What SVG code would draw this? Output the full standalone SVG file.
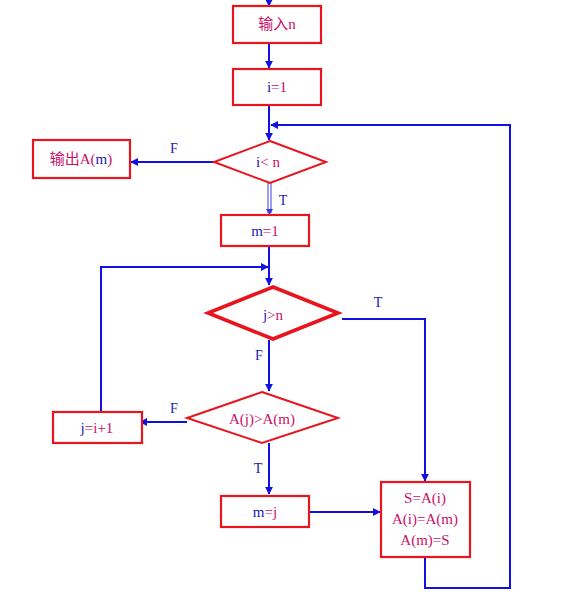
<svg xmlns="http://www.w3.org/2000/svg" width="580" height="596" viewBox="0 0 580 596">
<style>
.box{fill:#fff;stroke:#e8141e;stroke-width:2.2}
.dia{fill:#fff;stroke:#e8141e;stroke-width:2}
.thick{stroke-width:3.6}
.ln{fill:none;stroke:#1010e0;stroke-width:2}
.t{font-family:"Liberation Serif","Noto Sans CJK SC",serif;font-size:15px;text-anchor:middle}
.m{fill:#c8106a}
.b{fill:#1a1ab0}
.lbl{font-family:"Liberation Serif",serif;font-size:14px;fill:#1a1ab0;text-anchor:middle}
</style>
<defs>
<marker id="ah" viewBox="0 0 10 10" refX="9" refY="5" markerWidth="4" markerHeight="4" orient="auto" markerUnits="strokeWidth">
<path d="M0,0 L10,5 L0,10 z" fill="#1010e0"/>
</marker>
</defs>
<rect width="580" height="596" fill="#fff"/>
<g id="connectors">
<line class="ln" x1="269" y1="0" x2="269" y2="6" marker-end="url(#ah)"/>
<line class="ln" x1="269" y1="44" x2="269" y2="68" marker-end="url(#ah)"/>
<line class="ln" x1="269" y1="106" x2="269" y2="140" marker-end="url(#ah)"/>
<line class="ln" x1="214" y1="162" x2="131" y2="162" marker-end="url(#ah)"/>
<line x1="268" y1="183" x2="268" y2="213" stroke="#3a3ae0" stroke-width="1"/>
<line x1="271" y1="183" x2="271" y2="213" stroke="#3a3ae0" stroke-width="1"/>
<path d="M266,209 L269.5,215 L273,209" fill="#3a3ae0"/>
<line class="ln" x1="269" y1="246" x2="269" y2="285" marker-end="url(#ah)"/>
<polyline class="ln" points="101,412 101,267 268,267" marker-end="url(#ah)"/>
<polyline class="ln" points="342,319 425,319 425,481" marker-end="url(#ah)"/>
<line class="ln" x1="269" y1="340" x2="269" y2="391" marker-end="url(#ah)"/>
<line class="ln" x1="187" y1="422" x2="140" y2="422" marker-end="url(#ah)"/>
<line class="ln" x1="269" y1="443" x2="269" y2="494" marker-end="url(#ah)"/>
<line class="ln" x1="309" y1="512" x2="380" y2="512" marker-end="url(#ah)"/>
<polyline class="ln" points="425,557 425,588 510,588 510,125 271,125" marker-end="url(#ah)"/>
<text class="lbl" x="174" y="153">F</text>
<text class="lbl" x="283" y="205">T</text>
<text class="lbl" x="378" y="307">T</text>
<text class="lbl" x="259" y="360">F</text>
<text class="lbl" x="174" y="413">F</text>
<text class="lbl" x="258" y="473">T</text>
</g>
<g id="input">
<rect class="box" x="233" y="6" width="88" height="37"/>
<text class="t m" x="277" y="29">输入n</text>
</g>
<g id="i1">
<rect class="box" x="233" y="69" width="88" height="36"/>
<text class="t" x="277" y="92"><tspan class="b">i</tspan><tspan class="m">=1</tspan></text>
</g>
<g id="cond-i">
<polygon class="dia" points="270,141 326,162 270,183 214,162"/>
<text class="t" x="268" y="167"><tspan class="b">i</tspan><tspan class="m">&lt; n</tspan></text>
</g>
<g id="output">
<rect class="box" x="33" y="140" width="97" height="38"/>
<text class="t" x="81" y="164"><tspan class="m">输出A(</tspan><tspan class="b">m</tspan><tspan class="m">)</tspan></text>
</g>
<g id="m1">
<rect class="box" x="221" y="215" width="88" height="31"/>
<text class="t" x="265" y="236"><tspan class="b">m</tspan><tspan class="m">=1</tspan></text>
</g>
<g id="cond-j">
<polygon class="dia thick" points="273,287 338,313 273,339 208,313"/>
<text class="t" x="273" y="320"><tspan class="b">j</tspan><tspan class="m">&gt;n</tspan></text>
</g>
<g id="cond-a">
<polygon class="dia" points="262,392 338,418 262,443 187,418"/>
<text class="t m" x="262" y="424">A(j)&gt;A(m)</text>
</g>
<g id="jinc">
<rect class="box" x="53" y="412" width="89" height="31"/>
<text class="t" x="97" y="433"><tspan class="b">j</tspan><tspan class="m">=i+1</tspan></text>
</g>
<g id="mj">
<rect class="box" x="221" y="496" width="88" height="31"/>
<text class="t" x="265" y="517"><tspan class="b">m</tspan><tspan class="m">=j</tspan></text>
</g>
<g id="swap">
<rect class="box" x="381" y="482" width="89" height="75"/>
<text class="t m" x="425" y="503" font-size="12">S=A(i)</text>
<text class="t m" x="425" y="524" font-size="12">A(i)=A(m)</text>
<text class="t m" x="425" y="545" font-size="12">A(m)=S</text>
</g>
</svg>
